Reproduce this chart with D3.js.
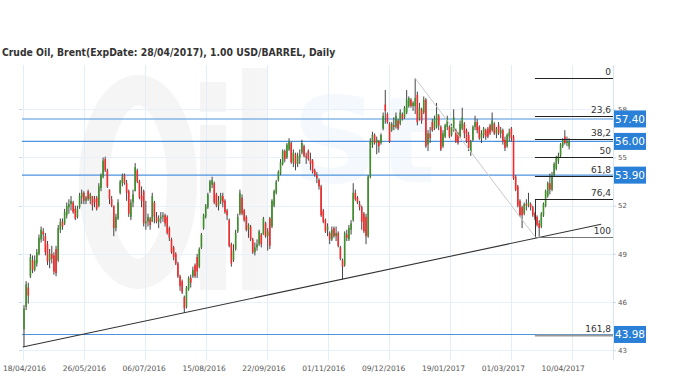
<!DOCTYPE html>
<html>
<head>
<meta charset="utf-8">
<script src="https://cdn.jsdelivr.net/npm/d3@7"></script>
<style>
  body { margin: 0; background: #fff; }
  svg { display: block; }
  text { font-family: "DejaVu Sans", Verdana, sans-serif; }
</style>
</head>
<body>
<script>
const title = "Crude Oil, Brent(ExpDate: 28/04/2017), 1.00 USD/BARREL, Daily";

// bar index of each date label (one label every 28 trading days)
const labelIndex = [0, 28, 56, 84, 112, 140, 168, 196, 224, 252];
const dateLabels = ["18/04/2016", "26/05/2016", "06/07/2016", "15/08/2016", "22/09/2016",
  "01/11/2016", "09/12/2016", "19/01/2017", "01/03/2017", "10/04/2017"];

const priceTicks = [43, 46, 49, 52, 55, 58];

// daily bars: [open, high, low, close]
const ohlc = [
  [44.3,45.8,43.2,45.6],[45.7,47.3,45.5,47.1],[46.9,47.2,45.9,46.4],[47.6,49.0,47.5,48.8],[48.6,48.9,47.8,48.0],
  [48.0,48.9,47.9,48.6],[48.4,49.3,48.2,49.1],[49.0,50.2,48.9,50.0],[49.9,50.7,49.7,50.5],[50.4,50.6,49.8,50.2],
  [50.1,50.3,48.9,49.1],[49.6,49.8,48.3,48.5],[48.6,49.3,48.1,49.0],[49.0,49.5,48.4,48.7],[48.9,49.1,47.7,47.9],
  [49.3,49.5,47.6,47.8],[48.6,50.8,48.5,50.6],[50.5,51.2,50.3,51.0],[51.0,51.2,50.5,50.7],[50.9,51.8,50.8,51.6],
  [51.4,52.2,51.2,52.0],[51.9,52.4,51.5,52.1],[52.1,52.6,51.7,52.3],[52.2,52.3,51.5,51.6],[51.8,52.0,51.1,51.2],
  [51.3,52.0,51.2,51.8],[51.9,52.8,51.8,52.6],[52.5,53.0,52.1,52.8],[52.8,52.9,52.1,52.3],[52.3,52.6,52.1,52.5],
  [52.9,53.0,52.3,52.4],[52.4,52.8,52.1,52.7],[52.6,52.6,51.7,52.0],[52.4,52.6,51.9,52.2],[52.5,52.6,51.7,51.8],
  [52.0,53.4,51.9,53.2],[53.1,54.0,52.9,53.9],[53.8,55.0,53.7,54.8],[54.9,55.05,54.1,54.2],[54.2,54.3,53.1,53.2],
  [53.0,53.0,52.1,52.4],[52.4,52.6,51.9,52.0],[52.0,52.0,50.1,50.6],[50.6,51.5,50.4,51.3],[51.2,52.4,51.1,52.2],
  [52.8,53.6,52.7,53.5],[53.4,54.0,53.2,53.8],[53.9,54.0,53.3,53.4],[53.4,53.6,52.3,52.8],[52.9,53.0,51.3,51.5],
  [51.3,52.4,51.1,52.2],[52.2,53.0,51.9,52.7],[52.9,54.65,52.9,54.4],[54.2,54.3,53.4,53.5],[53.5,53.6,52.4,52.5],
  [52.6,53.2,51.9,52.3],[52.9,53.0,50.7,50.9],[50.9,52.3,50.5,51.0],[51.0,51.5,50.7,51.3],[51.2,51.3,50.5,50.8],
  [51.0,52.8,51.0,52.6],[52.2,52.3,50.9,51.3],[51.3,51.6,50.9,51.0],[51.0,51.4,50.6,51.2],[51.2,51.6,50.9,51.3],
  [51.3,51.6,51.0,51.4],[51.4,51.5,50.7,50.9],[51.3,51.4,50.2,50.3],[50.6,50.7,49.8,50.0],[49.9,50.0,49.0,49.1],
  [49.4,49.5,48.6,48.8],[49.0,49.1,48.3,48.4],[48.4,48.5,47.5,47.6],[47.6,47.7,46.7,47.0],[47.3,47.4,46.5,46.6],
  [46.3,46.4,45.33,45.6],[45.7,47.0,45.6,46.9],[46.8,47.6,46.7,47.5],[47.5,47.7,46.9,47.2],[47.6,48.2,47.5,48.0],
  [48.3,48.4,47.5,47.6],[48.8,49.0,47.5,47.9],[48.2,49.4,48.1,49.3],[49.4,50.3,49.3,50.2],[50.6,51.5,50.5,51.4],
  [51.3,52.1,51.2,52.0],[51.9,52.8,51.8,52.7],[52.9,53.6,52.8,53.5],[53.3,53.8,53.1,53.6],[53.4,53.5,52.1,52.2],
  [52.7,52.8,51.9,52.0],[52.0,52.6,51.7,52.3],[52.3,52.8,52.1,52.6],[52.6,52.8,51.9,52.2],[52.3,52.4,51.5,51.6],
  [51.7,51.8,51.1,51.4],[51.1,51.2,49.4,49.5],[49.6,49.7,48.2,48.4],[48.6,49.6,48.5,49.2],[49.3,50.5,49.2,50.3],
  [50.4,51.5,50.3,51.3],[51.5,53.0,51.4,52.8],[52.5,52.7,51.4,51.5],[51.7,51.8,51.0,51.1],[51.3,51.4,50.4,50.5],
  [50.5,50.9,50.0,50.8],[50.7,50.8,49.8,49.9],[49.9,50.0,49.0,49.1],[49.1,49.7,48.9,49.4],[49.4,49.9,49.2,49.6],
  [49.6,50.5,49.5,50.4],[50.2,50.3,49.4,49.6],[50.2,51.3,50.2,51.2],[50.9,51.0,50.0,50.1],[50.1,50.6,49.2,50.4],
  [51.2,51.3,49.3,49.5],[50.7,52.4,50.6,52.3],[52.0,53.0,51.9,52.9],[52.8,53.6,52.7,53.5],[53.6,54.2,53.5,54.1],
  [54.0,54.9,53.9,54.7],[54.6,55.5,54.5,55.4],[55.4,55.5,54.7,54.9],[55.0,55.9,54.9,55.8],[55.5,56.2,55.4,56.0],
  [55.9,56.0,54.6,54.7],[54.7,55.5,54.4,55.3],[55.2,55.3,54.2,54.6],[54.6,55.3,54.4,55.1],[55.0,55.5,54.6,55.2],
  [55.3,56.1,55.2,55.9],[55.7,55.8,55.0,55.1],[55.1,55.3,54.6,55.0],[55.4,55.5,54.8,54.9],[54.9,55.3,54.2,54.6],
  [54.8,54.9,54.0,54.1],[54.2,54.3,53.8,53.9],[53.9,54.1,53.4,53.7],[53.6,53.7,53.0,53.2],[53.2,53.3,51.3,51.4],
  [51.7,51.8,50.9,51.0],[51.1,51.2,50.3,50.4],[50.5,50.9,50.1,50.7],[50.3,50.4,49.6,49.9],[49.9,50.7,49.8,50.5],
  [50.6,50.7,50.0,50.1],[50.1,50.7,49.8,50.3],[50.3,50.4,49.4,49.5],[49.4,49.5,48.6,48.7],[48.6,48.7,47.4,48.2],
  [48.3,50.4,48.2,50.3],[50.2,50.5,49.8,50.0],[49.9,50.8,49.8,50.6],[50.5,51.1,50.2,50.9],[51.1,53.4,51.0,52.8],
  [52.8,53.0,52.3,52.4],[52.5,52.6,52.1,52.2],[52.1,52.3,51.7,51.9],[51.9,52.0,50.5,51.0],[51.5,51.6,50.3,50.4],
  [51.3,51.5,49.6,50.1],[50.1,53.9,50.0,53.8],[53.8,56.2,53.7,56.0],[55.8,56.6,55.6,56.4],[56.4,56.5,55.8,55.9],
  [55.9,56.3,55.2,56.1],[56.0,56.1,55.3,55.7],[55.9,56.5,55.8,56.4],[56.8,57.8,56.7,57.6],[58.3,59.2,57.1,57.9],
  [57.7,57.8,57.1,57.2],[57.1,57.2,55.9,56.0],[56.7,57.2,56.6,57.1],[57.0,57.5,56.7,56.9],[56.9,57.8,56.8,57.6],
  [57.3,57.4,56.7,56.8],[57.1,58.0,57.0,57.8],[57.7,57.8,57.3,57.4],[57.5,58.2,57.4,58.1],[57.8,59.2,57.7,58.6],
  [58.2,58.8,58.1,58.7],[58.6,58.7,58.1,58.2],[58.2,58.5,57.9,58.4],[58.2,59.93,57.7,58.7],[58.9,59.1,57.0,57.2],
  [57.4,58.4,57.3,58.1],[58.0,58.1,57.1,57.3],[57.8,58.8,57.7,58.6],[58.6,58.7,55.6,55.7],[55.8,56.7,55.4,56.5],
  [56.5,56.9,55.9,56.2],[57.2,57.4,56.6,56.7],[56.8,57.6,56.7,57.4],[56.9,58.4,56.8,57.7],[57.6,57.7,56.7,57.0],
  [56.9,57.0,55.4,55.5],[55.7,56.7,55.6,56.5],[56.3,57.1,56.2,57.0],[56.9,57.6,56.7,57.4],[56.9,57.0,56.2,56.3],
  [56.4,57.1,56.3,56.9],[56.7,58.0,56.6,57.5],[56.7,56.8,55.9,56.0],[56.5,56.6,55.8,55.9],[56.3,57.3,56.2,57.1],
  [56.8,58.1,56.7,57.5],[57.1,57.2,56.2,56.5],[56.7,56.8,55.9,56.0],[56.4,56.6,55.4,55.6],[55.3,56.1,55.1,56.0],
  [56.1,57.0,56.0,56.9],[56.9,57.6,56.7,57.2],[57.2,57.4,56.5,56.7],[56.9,57.0,56.1,56.2],[56.2,56.7,55.9,56.5],
  [56.4,56.9,56.2,56.8],[56.7,56.8,56.1,56.3],[56.8,56.9,56.2,56.3],[57.0,57.1,56.4,56.5],[56.7,57.8,56.6,57.3],
  [57.1,57.2,56.4,56.5],[56.5,56.9,56.2,56.8],[57.0,57.2,56.4,56.5],[56.5,56.9,56.2,56.7],[56.7,56.8,55.8,56.0],
  [56.1,56.3,55.4,55.6],[55.7,56.5,55.6,56.4],[56.3,56.8,56.0,56.6],[56.8,56.9,56.0,56.2],[56.3,56.4,53.6,53.7],
  [53.8,53.9,52.9,53.0],[53.2,53.3,51.9,52.0],[52.3,52.4,51.3,51.4],[51.9,52.0,50.6,51.4],[51.5,52.2,51.4,52.1],
  [52.1,52.4,51.7,52.0],[52.0,52.8,51.9,52.2],[52.1,52.2,51.7,51.9],[51.9,52.0,51.3,51.4],[51.5,51.6,51.1,51.2],
  [51.3,51.4,50.7,50.8],[50.9,51.1,50.07,50.6],[50.7,51.6,50.6,51.5],[51.4,52.2,51.3,52.1],[52.0,53.0,51.9,52.9],
  [52.6,53.5,52.5,53.4],[53.4,54.0,52.7,53.0],[53.0,54.1,52.9,53.9],[53.9,54.7,53.8,54.6],[54.3,55.1,54.2,55.0],
  [54.8,55.3,54.6,55.1],[55.1,55.9,55.0,55.8],[55.7,56.2,55.6,56.1],[56.3,56.7,55.8,55.9],[55.9,56.3,55.7,56.0],
  [55.7,56.2,55.5,56.0]
];

// drawn support / resistance levels
const levels = [57.40, 56.00, 53.90, 43.98];

// fibonacci retracement drawn from the January top to the March low
const fibRatios = [0, 23.6, 38.2, 50, 61.8, 76.4, 100, 161.8];
const fibTop = { i: 183, p: 59.93 };
const fibBottom = { i: 239, p: 50.07 };

// rising trend line under the lows
const trendLine = [{ i: -0.6, p: 43.2 }, { i: 270, p: 50.84 }];

const W = 680, H = 381;
const plotLeft = 22, plotRight = 613, plotTop = 65, plotBottom = 360;

const svg = d3.select("body").append("svg")
  .attr("width", W)
  .attr("height", H);

const x = d3.scaleLinear().domain([0, 252]).range([24, 562.7]);
// the grid in the source drifts a little from the labels
const xGrid = d3.scaleLinear().domain([0, 252]).range([22.7, 572.3]);
const y = d3.scaleLinear().domain([43, 58]).range([350.2, 109.3]);

// faint "Oil" watermark, drawn as shapes so it stays behind everything
const wm = svg.append("g").attr("fill", "#000").attr("opacity", 0.035);
wm.append("ellipse")
  .attr("cx", 138).attr("cy", 182).attr("rx", 44).attr("ry", 92)
  .attr("fill", "none").attr("stroke", "#000").attr("stroke-width", 30);
wm.append("rect").attr("x", 200).attr("y", 125).attr("width", 26).attr("height", 165);
wm.append("rect").attr("x", 200).attr("y", 82).attr("width", 26).attr("height", 30);
wm.append("rect").attr("x", 242).attr("y", 68).attr("width", 26).attr("height", 222);

svg.append("text")
  .attr("x", 292).attr("y", 182)
  .style("font-size", "120px").style("font-weight", "bold")
  .attr("fill", "#2a7fd5").attr("opacity", 0.04)
  .text("St");

// title
svg.append("text")
  .attr("x", 2).attr("y", 56)
  .style("font-family", "'DejaVu Sans Condensed', 'DejaVu Sans', sans-serif")
  .style("font-size", "10.3px").style("font-weight", "bold")
  .attr("fill", "#333")
  .text(title);

// grid
svg.append("g").selectAll("line")
  .data(labelIndex)
  .enter().append("line")
  .attr("x1", d => Math.round(xGrid(d)) + 0.5)
  .attr("x2", d => Math.round(xGrid(d)) + 0.5)
  .attr("y1", plotTop).attr("y2", plotBottom)
  .attr("stroke", "#e4eef8");

svg.append("g").selectAll("line")
  .data(priceTicks)
  .enter().append("line")
  .attr("x1", plotLeft).attr("x2", plotRight)
  .attr("y1", d => Math.round(y(d)) + 0.5)
  .attr("y2", d => Math.round(y(d)) + 0.5)
  .attr("stroke", "#e8f0f9");

// right border + little left ticks
svg.append("line")
  .attr("x1", plotRight + 0.5).attr("x2", plotRight + 0.5)
  .attr("y1", plotTop).attr("y2", plotBottom)
  .attr("stroke", "#d7e5f3");

svg.append("g").selectAll("line")
  .data(priceTicks)
  .enter().append("line")
  .attr("x1", plotLeft - 3).attr("x2", plotLeft)
  .attr("y1", d => Math.round(y(d)) + 0.5)
  .attr("y2", d => Math.round(y(d)) + 0.5)
  .attr("stroke", "#c9dbee");

// axes
const xAxis = svg.append("g")
  .attr("transform", `translate(0,${plotBottom})`)
  .call(d3.axisBottom(x)
    .tickValues(labelIndex)
    .tickSize(0)
    .tickPadding(6)
    .tickFormat((d, i) => dateLabels[i]));
xAxis.select(".domain").remove();
xAxis.selectAll("text")
  .style("font-family", "'DejaVu Sans', sans-serif")
  .style("font-size", "7.5px")
  .attr("fill", "#555");

const yAxis = svg.append("g")
  .attr("transform", `translate(${plotRight},0)`)
  .call(d3.axisRight(y)
    .tickValues(priceTicks)
    .tickSize(3)
    .tickPadding(2)
    .tickFormat(d3.format("d")));
yAxis.select(".domain").remove();
yAxis.selectAll("line").attr("stroke", "#c9dbee");
yAxis.selectAll("text")
  .style("font-family", "'DejaVu Sans', sans-serif")
  .style("font-size", "7px")
  .attr("fill", "#555");

// level lines
svg.append("g").selectAll("line")
  .data(levels)
  .enter().append("line")
  .attr("x1", plotLeft).attr("x2", plotRight)
  .attr("y1", d => y(d)).attr("y2", d => y(d))
  .attr("stroke", "#4d93de")
  .attr("stroke-width", 1.1);

// candles
const candles = svg.append("g")
  .selectAll("g")
  .data(ohlc)
  .enter().append("g");

candles.append("line")
  .attr("x1", (d, i) => x(i))
  .attr("x2", (d, i) => x(i))
  .attr("y1", d => y(d[1]))
  .attr("y2", d => y(d[2]))
  .attr("stroke", "#444")
  .attr("stroke-width", 1);

candles.append("rect")
  .attr("x", (d, i) => x(i) - 0.8)
  .attr("width", 1.6)
  .attr("y", d => y(Math.max(d[0], d[3])))
  .attr("height", d => Math.max(1, Math.abs(y(d[0]) - y(d[3]))))
  .attr("fill", d => d[3] >= d[0] ? "#3f8f2a" : "#f52a2a");

// trend line
svg.append("line")
  .attr("x1", x(trendLine[0].i)).attr("y1", y(trendLine[0].p))
  .attr("x2", x(trendLine[1].i)).attr("y2", y(trendLine[1].p))
  .attr("stroke", "#333")
  .attr("stroke-width", 1.1);

// fibonacci
const fibRange = fibTop.p - fibBottom.p;
const fibLevels = fibRatios.map(r => ({ r, p: fibTop.p - fibRange * r / 100 }));
const fx0 = x(fibBottom.i);

svg.append("line")
  .attr("x1", x(fibTop.i)).attr("y1", y(fibTop.p))
  .attr("x2", fx0).attr("y2", y(fibBottom.p))
  .attr("stroke", "#c8c8c8");

svg.append("line")
  .attr("x1", Math.round(fx0) + 0.5).attr("x2", Math.round(fx0) + 0.5)
  .attr("y1", y(fibLevels[5].p)).attr("y2", y(fibLevels[6].p))
  .attr("stroke", "#333");

const fib = svg.append("g").selectAll("g")
  .data(fibLevels)
  .enter().append("g");

fib.append("line")
  .attr("x1", fx0).attr("x2", plotRight)
  .attr("y1", d => Math.round(y(d.p)) + 0.5)
  .attr("y2", d => Math.round(y(d.p)) + 0.5)
  .attr("stroke", d => d.r > 100 ? "#999" : (d.r === 100 ? "#777" : "#222"))
  .attr("stroke-width", d => d.r > 100 ? 2 : 1);

fib.append("text")
  .attr("x", plotRight - 2)
  .attr("y", d => y(d.p) - 3)
  .attr("text-anchor", "end")
  .style("font-size", "9px")
  .attr("fill", "#333")
  .text(d => String(d.r).replace(".", ","));

// level price tags
const tags = svg.append("g").selectAll("g")
  .data(levels)
  .enter().append("g")
  .attr("transform", d => `translate(${plotRight + 1},${y(d)})`);

tags.append("rect")
  .attr("x", 0).attr("y", -8.5)
  .attr("width", 32).attr("height", 17)
  .attr("fill", "#2a80d6");

tags.append("text")
  .attr("x", 16).attr("y", 4)
  .attr("text-anchor", "middle")
  .style("font-size", "10.5px")
  .attr("fill", "#fff")
  .text(d => d.toFixed(2));
</script>
</body>
</html>
